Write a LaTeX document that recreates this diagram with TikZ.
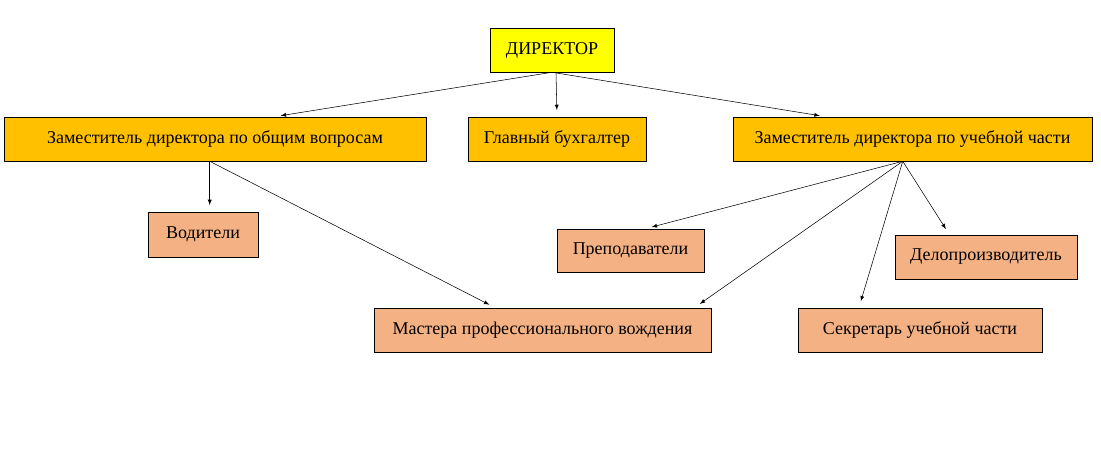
\documentclass[tikz,border=0pt]{standalone}
\usepackage{fontspec}
\setmainfont{Liberation Serif}
\usetikzlibrary{positioning,calc,arrows}
\definecolor{dirfill}{HTML}{FFFF00}
\definecolor{zamfill}{HTML}{FFC000}
\definecolor{staff}{HTML}{F4B183}
\tikzstyle{box} = [draw=black, inner sep=0pt, font=\fontsize{13.5}{15}\selectfont]
\tikzstyle{arrow} = [->, >=latex, shorten >=5pt]

\begin{document}
\begin{tikzpicture}[x=0.75pt,y=-0.75pt]
    \useasboundingbox (0,0) rectangle (1101,462);
    % Блоки
    \node[box, fill=dirfill, minimum width=124*0.75pt, minimum height=44*0.75pt] (dir) at (552,50) {ДИРЕКТОР};
    \node[box, fill=zamfill, minimum width=422*0.75pt, minimum height=44*0.75pt] (zam1) at (215,139) {Заместитель директора по общим вопросам};
    \node[box, fill=zamfill, minimum width=178*0.75pt, minimum height=44*0.75pt] (buh) at (557,139) {Главный бухгалтер};
    \node[box, fill=zamfill, minimum width=359*0.75pt, minimum height=44*0.75pt] (zam2) at (912.5,139) {Заместитель директора по учебной части};
    \node[box, fill=staff, minimum width=110*0.75pt, minimum height=45*0.75pt] (vod) at (203,234.5) {Водители};
    \node[box, fill=staff, minimum width=147*0.75pt, minimum height=43*0.75pt] (prep) at (630.5,250.5) {Преподаватели};
    \node[box, fill=staff, minimum width=182*0.75pt, minimum height=44*0.75pt] (delo) at (986,257) {Делопроизводитель};
    \node[box, fill=staff, minimum width=337*0.75pt, minimum height=44*0.75pt] (mast) at (542.5,330) {Мастера профессионального вождения};
    \node[box, fill=staff, minimum width=244*0.75pt, minimum height=44*0.75pt] (sekr) at (920,330) {Секретарь учебной части};

    % Связи
    \draw[arrow] (dir.south) -- ($(zam1.north west)!0.64!(zam1.north east)$);
    \draw[arrow] ($(dir.south)+(4,0)$) -- (buh.north);
    \draw[arrow] (dir.south) -- ($(zam2.north west)!0.26!(zam2.north east)$);
    \coordinate (z1) at ($(zam1.south west)+(206,0)$);
    \draw[arrow] (z1) -- (vod.north -| z1);
    \draw[arrow] (z1) -- ($(mast.north west)!0.36!(mast.north east)$);
    \coordinate (z2) at ($(zam2.south west)+(170,0)$);
    \draw[arrow] (z2) -- ($(prep.north west)!0.6!(prep.north east)$);
    \draw[arrow] (z2) -- ($(mast.north west)!0.95!(mast.north east)$);
    \draw[arrow] (z2) -- ($(sekr.north west)!0.25!(sekr.north east)$);
    \draw[arrow] (z2) -- ($(delo.north west)!0.3!(delo.north east)$);
\end{tikzpicture}
\end{document}
